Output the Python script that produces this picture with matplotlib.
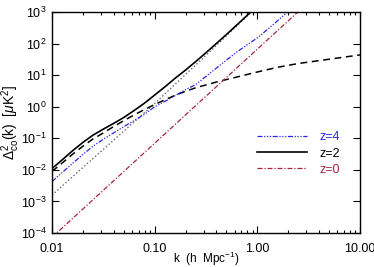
import numpy as np
import matplotlib
matplotlib.use("Agg")
import matplotlib.pyplot as plt
from matplotlib.ticker import FixedLocator, FixedFormatter, LogLocator, NullLocator, NullFormatter
from matplotlib.lines import Line2D

plt.rcParams['font.family'] = ['Liberation Sans', 'DejaVu Sans']
plt.rcParams['mathtext.fontset'] = 'custom'
plt.rcParams['mathtext.rm'] = 'Liberation Sans'
plt.rcParams['mathtext.it'] = 'Liberation Sans:italic'
plt.rcParams['mathtext.default'] = 'regular'

# ---- data ----
# z=2 total (solid black)
k_solid = [0.01, 0.0126, 0.0158, 0.02, 0.0251, 0.0316, 0.0398, 0.0501, 0.0631, 0.0794,
           0.1, 0.126, 0.158, 0.2, 0.251, 0.316, 0.398, 0.501, 0.631, 0.794, 1.0]
v_solid = [0.011, 0.0209, 0.0398, 0.0741, 0.126, 0.195, 0.295, 0.457, 0.759, 1.29,
           2.34, 4.27, 7.94, 14.5, 26.9, 51.3, 100, 195, 389, 776, 1550]
# z=2 clustering (dashed black)
k_dash = [0.01, 0.0126, 0.0158, 0.02, 0.0251, 0.0316, 0.0398, 0.0501, 0.0631, 0.0794,
          0.1, 0.126, 0.158, 0.2, 0.251, 0.398, 0.631, 1.0, 1.585, 2.512, 3.98, 6.31, 10.0]
v_dash = [0.0089, 0.0166, 0.0309, 0.0562, 0.0955, 0.148, 0.234, 0.363, 0.55, 0.813,
          1.17, 1.66, 2.29, 3.09, 3.98, 6.03, 8.71, 12.6, 17.8, 23.4, 28.8, 35.5, 43.7]
# z=2 shot noise (dotted grey)
k_dot = [0.01, 0.0158, 0.0251, 0.0398, 0.0631, 0.1, 0.158, 0.251, 0.398, 0.631, 1.0]
v_dot = [0.00158, 0.00603, 0.0229, 0.0871, 0.331, 1.26, 5.13, 20.9, 87.1, 363, 1510]
# z=4 total (blue dash-dot-dot)
k_z4 = [0.01, 0.0126, 0.0158, 0.02, 0.0251, 0.0316, 0.0398, 0.0501, 0.0631, 0.0794,
        0.1, 0.126, 0.158, 0.2, 0.251, 0.316, 0.398, 0.501, 0.631, 0.794, 1.0, 1.259, 1.585, 1.995]
v_z4 = [0.00427, 0.00832, 0.0158, 0.0309, 0.0562, 0.0933, 0.148, 0.234, 0.363, 0.575,
        1.0, 1.48, 2.24, 3.47, 5.01, 9.12, 16.6, 30.2, 53.7, 91.2, 151, 282, 537, 1047]
# z=0 (red dash-dot)
k_z0 = [0.01, 0.1, 1.0, 10.0]
v_z0 = [7.3e-5, 0.0697, 66.6, 63600]

x_ticks = [0.01, 0.1, 1.0, 10.0]
x_ticklabels = ["0.01", "0.10", "1.00", "10.00"]
legend_labels = ["z=4", "z=2", "z=0"]

blue = '#2626e6'
red = '#a82440'

fig = plt.figure(figsize=(3.74, 2.67), dpi=100)
ax = fig.add_axes([52/374, 34/267, 308/374, 221/267])

ax.plot(k_dot, v_dot, color='#6a6a6a', lw=1.0, linestyle=(0, (1, 1.6)))
ax.plot(k_dash, v_dash, color='black', lw=1.1, linestyle=(0, (4.5, 3)))
ax.plot(k_z0, v_z0, color=red, lw=0.9, linestyle=(0, (4, 1.5, 1, 1.5)))
ax.plot(k_z4, v_z4, color=blue, lw=0.9, linestyle=(0, (4, 1.3, 1, 1.3, 1, 1.3, 1, 1.3)))
ax.plot(k_solid, v_solid, color='black', lw=1.2)

ax.set_xscale('log')
ax.set_yscale('log')
ax.set_xlim(0.01, 10)
ax.set_ylim(1e-4, 1e3)

ax.xaxis.set_major_locator(FixedLocator(x_ticks))
ax.xaxis.set_major_formatter(FixedFormatter(x_ticklabels))
ax.xaxis.set_minor_locator(LogLocator(base=10, subs=np.arange(2, 10)))
ax.xaxis.set_minor_formatter(NullFormatter())
ax.yaxis.set_major_locator(LogLocator(base=10, numticks=20))
ax.yaxis.set_minor_locator(NullLocator())

ax.tick_params(which='both', direction='in', top=True, right=True, labelsize=9, width=0.8)
ax.tick_params(axis='x', which='major', length=5, pad=7)
ax.tick_params(axis='y', which='major', length=5, pad=4)
ax.tick_params(which='minor', length=2.5)
for s in ax.spines.values():
    s.set_linewidth(1.0)

ax.set_xlabel(r"k  (h  Mpc$^{-1}$)", fontsize=8.5)
ax.xaxis.set_label_coords(0.5, (233 - 250) / 221)
ax.set_ylabel(r"$\Delta^2_{co}$(k)  [$\mathit{\mu}$K$^2$]", fontsize=10)
ax.yaxis.set_label_coords((22 - 52) / 308, 0.5)

handles = [
    Line2D([], [], color=blue, lw=0.9, linestyle=(0, (4, 1.3, 1, 1.3, 1, 1.3, 1, 1.3))),
    Line2D([], [], color='black', lw=1.2),
    Line2D([], [], color=red, lw=0.9, linestyle=(0, (4, 1.5, 1, 1.5))),
]
leg = ax.legend(handles, legend_labels, frameon=False, fontsize=9,
                loc='upper left', bbox_to_anchor=(257/374, 1 - 131.5/267),
                bbox_transform=fig.transFigure, borderpad=0, borderaxespad=0,
                handlelength=4.0, handletextpad=1.0, labelspacing=0.33)
for txt, c in zip(leg.get_texts(), [blue, 'black', red]):
    txt.set_color(c)

fig.savefig('out.png', dpi=100)
